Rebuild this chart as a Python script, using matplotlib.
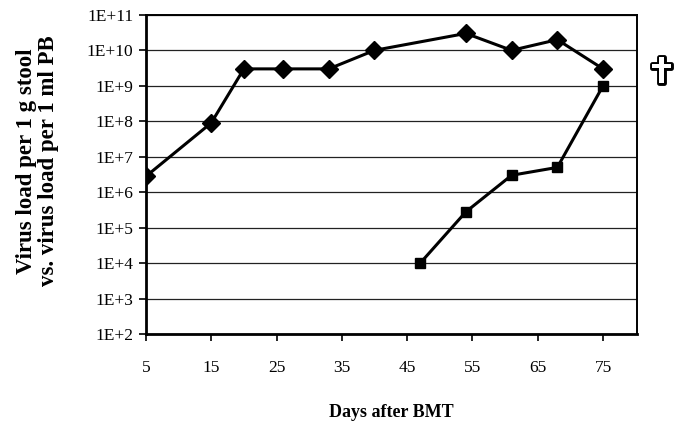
import math
import matplotlib.pyplot as plt
import matplotlib.patheffects as pe
from matplotlib.ticker import FixedLocator, FuncFormatter

# stool virus load (diamonds) and peripheral blood virus load (squares)
stool_days = [5, 15, 20, 26, 33, 40, 54, 61, 68, 75]
stool_load = [2.8e6, 9e7, 3e9, 3e9, 3e9, 1e10, 3e10, 1e10, 2e10, 3e9]
pb_days = [47, 54, 61, 68, 75]
pb_load = [1e4, 2.8e5, 3e6, 5e6, 1e9]

x_ticks = [5, 15, 25, 35, 45, 55, 65, 75]
y_exps = list(range(2, 12))

plt.rcParams['font.family'] = ['Liberation Serif', 'DejaVu Serif']

fig = plt.figure(figsize=(6.82, 4.25), dpi=100)
ax = fig.add_axes([0.214, 0.214, 0.72, 0.751])

ax.plot(stool_days, stool_load, color='black', lw=2.2, marker='D',
        markersize=9, zorder=3)
ax.plot(pb_days, pb_load, color='black', lw=2.2, marker='s',
        markersize=7, zorder=3)

ax.set_yscale('log')
ax.set_ylim(1e2, 1e11)
ax.set_xlim(5, 80.2)
ax.yaxis.set_major_locator(FixedLocator([10.0 ** e for e in y_exps]))
ax.yaxis.set_minor_locator(FixedLocator([]))
ax.yaxis.set_major_formatter(FuncFormatter(lambda v, p: '1E+%d' % round(math.log10(v))))
ax.set_xticks(x_ticks)

ax.grid(axis='y', color='#222222', lw=0.9)
ax.set_axisbelow(True)
for side in ['left', 'bottom']:
    ax.spines[side].set_linewidth(2.0)
for side in ['top', 'right']:
    ax.spines[side].set_linewidth(1.4)

ax.tick_params(axis='both', direction='out', length=5, width=1.2,
               labelsize=12.5, pad=4)
ax.tick_params(axis='x', pad=14)

ax.set_xlabel('Days after BMT', fontsize=13, fontweight='bold', labelpad=20)
ax.set_ylabel('Virus load per 1 g stool\nvs. virus load per 1 ml PB',
              fontsize=16.5, fontweight='bold', linespacing=1.05)
ax.yaxis.set_label_coords(-0.177, 0.542)

fig.text(0.970, 0.828, '\u271D', fontsize=26, color='white', ha='center',
         va='center', family='DejaVu Sans',
         path_effects=[pe.withStroke(linewidth=3.5, foreground='black')])

fig.savefig('out.png', dpi=100)
